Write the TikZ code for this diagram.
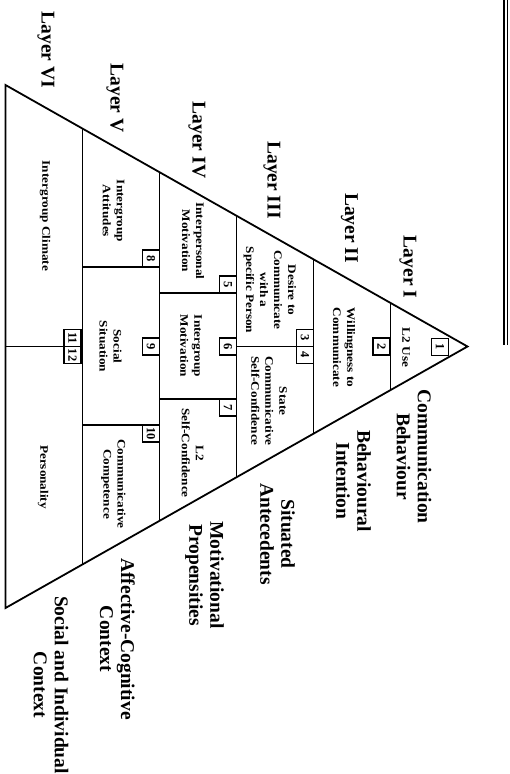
\documentclass[tikz,border=0pt]{standalone}
\usepackage{fontspec}
\setmainfont{Liberation Serif}
\newfontfamily\innerfont[FakeStretch=1.15]{Liberation Serif}
\usetikzlibrary{calc}
\begin{document}
\begin{tikzpicture}[x=1pt,y=-1pt,
  rim/.style={line width=1.8pt, line join=miter},
  divline/.style={line width=1.5pt},
  thindiv/.style={line width=0.9pt},
  numbox/.style={draw, fill=white, line width=1.4pt, minimum width=17pt, minimum height=17pt, inner sep=0pt, rotate=-90, font=\bfseries\fontsize{12.5}{12.5}\selectfont},
  intext/.style={rotate=-90, align=center, inner sep=0pt, font=\innerfont\bfseries\fontsize{11.5}{14}\selectfont},
  outtext/.style={rotate=-90, align=center, inner sep=0pt, font=\bfseries\fontsize{19.5}{21}\selectfont},
]
\useasboundingbox (0,0) rectangle (510,774);

% pyramid outline
\coordinate (A) at (467.5,346.5);
\coordinate (B) at (5.5,85);
\coordinate (C) at (5.5,608);
\draw[rim] (A) -- (B) -- (C) -- cycle;

% layer boundaries
\foreach \k in {1,...,5}{
  \coordinate (u\k) at ($(B)!\k/6!(A)$);
  \coordinate (l\k) at ($(C)!\k/6!(A)$);
  \draw[divline] (u\k) -- (l\k);
}

% internal dividers
\coordinate (d6a) at (5.5,346.5);
\draw[thindiv] (d6a) -- (d6a -| u1);
\coordinate (d5a) at (u1 |- 0,267);
\coordinate (d5b) at (u1 |- 0,425);
\draw[divline] (d5a) -- (d5a -| u2);
\draw[divline] (d5b) -- (d5b -| u2);
\coordinate (d4a) at (u2 |- 0,293);
\coordinate (d4b) at (u2 |- 0,399);
\draw[divline] (d4a) -- (d4a -| u3);
\draw[divline] (d4b) -- (d4b -| u3);
\coordinate (d3a) at (u3 |- 0,346.5);
\draw[divline] (d3a) -- (d3a -| u4);

% number boxes
\node[numbox] (n1) at (440,347) {1};
\node[numbox] (n2) at (381.5,346.5) {2};
\node[numbox] (n3) at (305,338) {3};
\node[numbox] (n4) at (305,355) {4};
\node[numbox] (n5) at (228,284.5) {5};
\node[numbox] (n6) at (228,346.5) {6};
\node[numbox] (n7) at (228,407.5) {7};
\node[numbox] (n8) at (151,258.5) {8};
\node[numbox] (n9) at (151,346.5) {9};
\node[numbox] (n10) at (151,433.5) {10};
\node[numbox] (n11) at (72.5,338) {11};
\node[numbox] (n12) at (72.5,355) {12};

% texts inside the pyramid
\node[intext] (t1) at (406,347.5) {L2 Use};
\node[intext] (t2) at (344,347.5) {Willingness to\\Communicate};
\node[intext] (t3) at (270,290) {Desire to\\Communicate\\with a\\Specific Person};
\node[intext] (t4) at (269,401) {State\\Communicative\\Self-Confidence};
\node[intext] (t5) at (193,241) {Interpersonal\\Motivation};
\node[intext] (t6) at (191,346) {Intergroup\\Motivation};
\node[intext] (t7) at (192.5,453) {L2\\Self-Confidence};
\node[intext] (t8) at (113.5,211) {Intergroup\\Attitudes};
\node[intext] (t9) at (110.5,346.5) {Social\\Situation};
\node[intext] (t10) at (113.5,484) {Communicative\\Competence};
\node[intext] (t11) at (45,216) {Intergroup Climate};
\node[intext] (t12) at (43,477) {Personality};

% layer labels
\node[outtext] (lay6) at (46,50) {Layer VI};
\node[outtext] (lay5) at (115,98) {Layer V};
\node[outtext] (lay4) at (197,140) {Layer IV};
\node[outtext] (lay3) at (272,180) {Layer III};
\node[outtext] (lay2) at (349.5,228) {Layer II};
\node[outtext] (lay1) at (408,267) {Layer I};

% right-hand labels
\node[outtext] (o1) at (414,456.5) {Communication\\Behaviour};
\node[outtext] (o2) at (353.5,481) {Behavioural\\Intention};
\node[outtext] (o3) at (277.5,534) {Situated\\Antecedents};
\node[outtext] (o4) at (204.5,575) {Motivational\\Propensities};
\node[outtext] (o5) at (117.5,639) {Affective-Cognitive\\Context};
\node[outtext] (o6) at (51,685) {Social and Individual\\Context};

% double rule at the top right
\coordinate (ra) at (504,0);
\coordinate (rb) at (504,345);
\coordinate (rc) at (507.5,0);
\coordinate (rd) at (507.5,345);
\draw[line width=1.5pt] (ra) -- (rb);
\draw[line width=0.9pt] (rc) -- (rd);
\end{tikzpicture}
\end{document}
